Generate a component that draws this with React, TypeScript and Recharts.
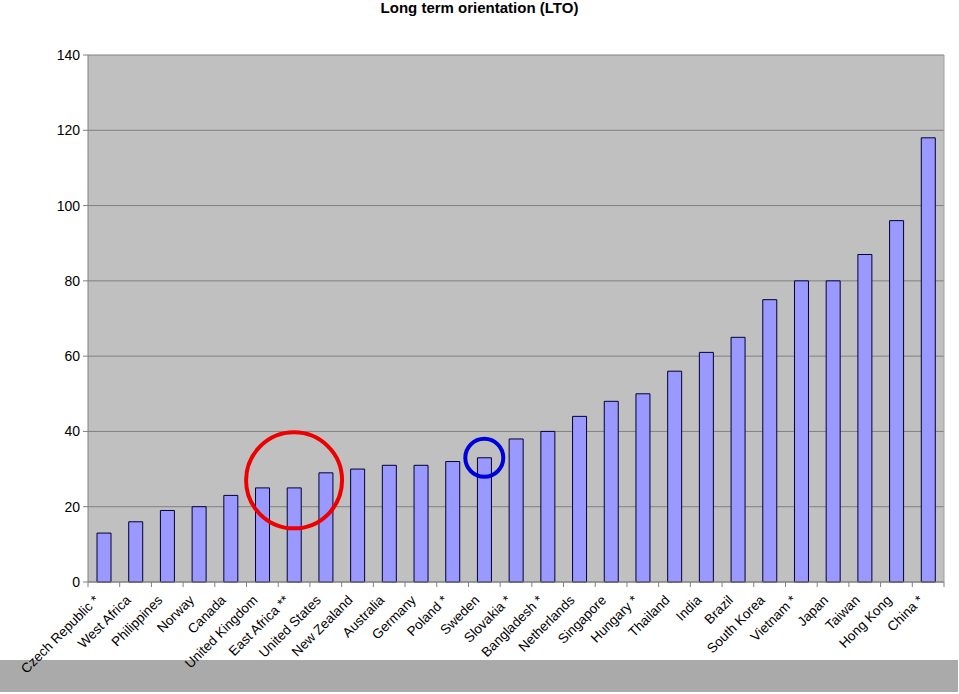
import React from "react";
import {
  BarChart,
  Bar,
  XAxis,
  YAxis,
  CartesianGrid,
  ReferenceDot,
} from "recharts";

const countries = [
  "Czech Republic *",
  "West Africa",
  "Philippines",
  "Norway",
  "Canada",
  "United Kingdom",
  "East Africa **",
  "United States",
  "New Zealand",
  "Australia",
  "Germany",
  "Poland *",
  "Sweden",
  "Slovakia *",
  "Bangladesh *",
  "Netherlands",
  "Singapore",
  "Hungary *",
  "Thailand",
  "India",
  "Brazil",
  "South Korea",
  "Vietnam *",
  "Japan",
  "Taiwan",
  "Hong Kong",
  "China *",
];

const ltoScores = [
  13, 16, 19, 20, 23, 25, 25, 29, 30, 31, 31, 32, 33, 38, 40, 44, 48, 50, 56,
  61, 65, 75, 80, 80, 87, 96, 118,
];

const yTicks = [0, 20, 40, 60, 80, 100, 120, 140];

// highlighted spots (category, value)
const redMark = { country: "East Africa **", value: 27 };
const blueMark = { country: "Sweden", value: 33 };

const data = countries.map((country, i) => ({ country, lto: ltoScores[i] }));

const FONT = "'Liberation Sans', Arial, sans-serif";
const BAND = 856 / countries.length;

const XTick = (props: any) => {
  const { x, y, payload, index } = props;
  return (
    <g>
      <line x1={x - BAND / 2} x2={x - BAND / 2} y1={y} y2={y + 5} stroke="#808080" />
      {index === countries.length - 1 && (
        <line x1={x + BAND / 2} x2={x + BAND / 2} y1={y} y2={y + 5} stroke="#808080" />
      )}
      <text
        transform={`translate(${x - 4},${y + 19}) rotate(-45)`}
        textAnchor="end"
        fontSize={13.5}
        fontFamily={FONT}
        fill="#000"
      >
        {payload.value}
      </text>
    </g>
  );
};

export default function App() {
  return (
    <div
      style={{
        position: "absolute",
        left: 0,
        top: 0,
        width: 959,
        height: 694,
        background: "#fff",
        fontFamily: FONT,
      }}
    >
      <div
        style={{
          position: "absolute",
          left: 0,
          top: 660,
          width: 958,
          height: 32,
          background: "#aaaaaa",
        }}
      />
      <div
        style={{
          position: "absolute",
          top: 0,
          width: 959,
          textAlign: "center",
          fontWeight: "bold",
          fontSize: 15,
          lineHeight: "16px",
        }}
      >
        Long term orientation (LTO)
      </div>
      <div style={{ position: "absolute", left: 0, top: 0 }}>
        <BarChart
          width={959}
          height={694}
          data={data}
          margin={{ top: 55, right: 0, bottom: 0, left: 0 }}
          barCategoryGap={0}
        >
          <CartesianGrid vertical={false} fill="#c0c0c0" stroke="#808080" />
          <XAxis
            dataKey="country"
            interval={0}
            height={112}
            tickSize={0}
            tickMargin={0}
            tickLine={false}
            axisLine={{ stroke: "#808080" }}
            tick={<XTick />}
          />
          <YAxis
            domain={[0, 140]}
            ticks={yTicks}
            width={88}
            tickSize={5}
            tickMargin={3}
            axisLine={{ stroke: "#808080" }}
            tickLine={{ stroke: "#808080" }}
            tick={{ fill: "#000", fontSize: 14, fontFamily: FONT }}
          />
          <YAxis
            yAxisId="right"
            orientation="right"
            domain={[0, 140]}
            width={15}
            tick={false}
            tickLine={false}
            axisLine={{ stroke: "#a0a0a0" }}
          />
          <Bar
            dataKey="lto"
            barSize={14}
            fill="#9999ff"
            stroke="#000033"
            strokeWidth={1}
            isAnimationActive={false}
          />
          <ReferenceDot
            x={redMark.country}
            y={redMark.value}
            r={48}
            fill="none"
            stroke="#ee0000"
            strokeWidth={4}
            ifOverflow="visible"
          />
          <ReferenceDot
            x={blueMark.country}
            y={blueMark.value}
            r={19}
            fill="none"
            stroke="#0000dd"
            strokeWidth={4}
            ifOverflow="visible"
          />
        </BarChart>
      </div>
    </div>
  );
}
